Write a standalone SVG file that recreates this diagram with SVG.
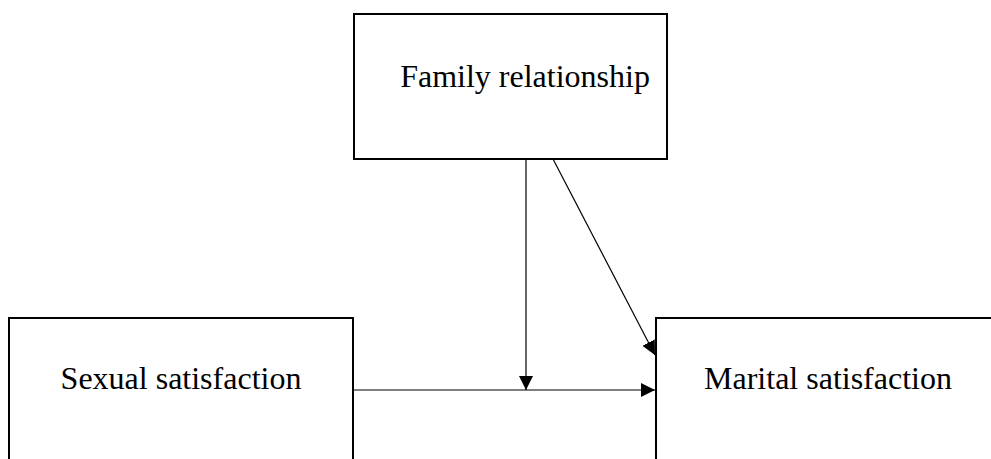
<svg xmlns="http://www.w3.org/2000/svg" width="991" height="459" viewBox="0 0 991 459">
<defs>
<style>
.box{fill:#fff;stroke:#000;stroke-width:2}
.lbl{font-family:"Liberation Serif","Times New Roman",serif;font-size:32px;fill:#000;text-anchor:middle}
.conn{stroke:#000;stroke-width:1.2;fill:none}
</style>
<marker id="ah" viewBox="0 0 14 14" refX="14" refY="7" markerWidth="14" markerHeight="14" markerUnits="userSpaceOnUse" orient="auto">
<path d="M0,0 L14,7 L0,14 Z" fill="#000"/>
</marker>
</defs>
<rect width="991" height="459" fill="#fff"/>
<g id="family">
<rect class="box" x="354" y="14" width="313" height="145"/>
<text class="lbl" x="525" y="87">Family relationship</text>
</g>
<g id="sexual">
<rect class="box" x="9" y="318" width="344" height="160"/>
<text class="lbl" x="181" y="389">Sexual satisfaction</text>
</g>
<g id="marital">
<rect class="box" x="656" y="318" width="360" height="160"/>
<text class="lbl" x="828" y="389">Marital satisfaction</text>
</g>
<g id="connectors">
<line class="conn" x1="526" y1="159" x2="526" y2="390" marker-end="url(#ah)"/>
<line class="conn" x1="353" y1="390" x2="655" y2="390" marker-end="url(#ah)"/>
<line class="conn" x1="553" y1="159" x2="655" y2="355" marker-end="url(#ah)"/>
</g>
</svg>
